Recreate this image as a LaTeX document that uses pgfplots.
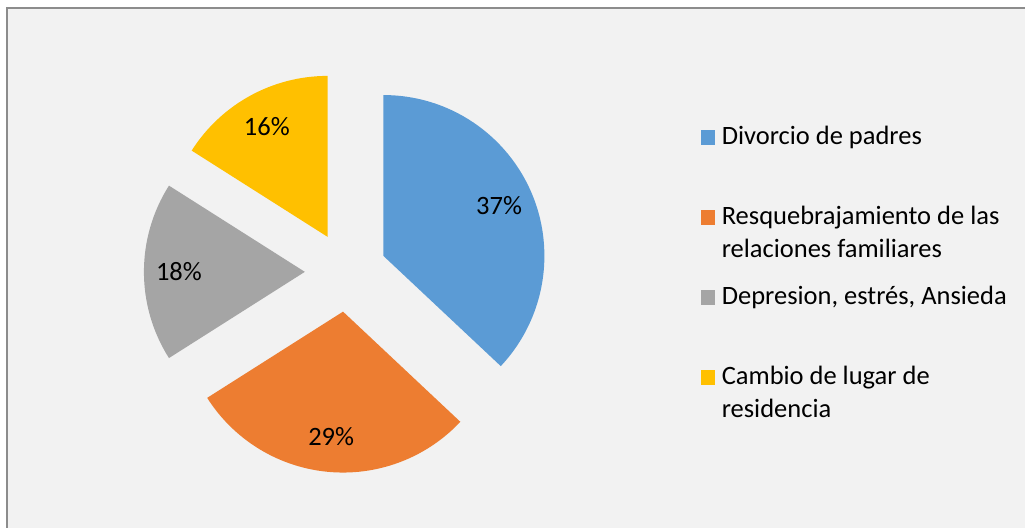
\documentclass[border=0pt]{standalone}
\usepackage{fontspec}
\setmainfont{Carlito}
\usepackage{pgfplots}
\usepackage{pgfplotstable}
\pgfplotsset{compat=1.18}
\definecolor{pblue}{HTML}{5B9BD5}
\definecolor{porange}{HTML}{ED7D31}
\definecolor{pgray}{HTML}{A5A5A5}
\definecolor{pyellow}{HTML}{FFC000}
\definecolor{bgfill}{HTML}{F2F2F2}
\definecolor{frame}{HTML}{8C8C8C}

% share in %, explode offset (pt)
\pgfplotstableread{
share explode
37 40
29 40
18 42
16 40
}\piedata

\newcommand\lblfont{\fontsize{26.5}{31}\selectfont}
\gdef\pieacc{0}

\begin{document}
\begin{tikzpicture}
\begin{axis}[
  width=1026pt, height=528pt, scale only axis,
  xmin=0, xmax=1026, ymin=0, ymax=528, y dir=reverse,
  hide axis, clip=false,
]
\pgfplotsextra{
  \fill[white] (axis cs:0,0) rectangle (axis cs:1026,528);
  \fill[bgfill] (axis cs:7,8) rectangle (axis cs:1026,528);
  \draw[frame, line width=1.2pt] (axis cs:7,528) -- (axis cs:7,8) -- (axis cs:1026,8);
  \foreach \i/\col in {0/pblue,1/porange,2/pgray,3/pyellow}{
    \pgfplotstablegetelem{\i}{share}\of\piedata \let\sh\pgfplotsretval
    \pgfplotstablegetelem{\i}{explode}\of\piedata \let\ex\pgfplotsretval
    \pgfmathsetmacro\a{90-\pieacc*3.6}
    \pgfmathsetmacro\b{90-(\pieacc+\sh)*3.6}
    \pgfmathsetmacro\m{(\a+\b)/2}
    \path (axis cs:347,272) ++(\m:\ex pt) coordinate (o);
    \fill[\col] (o) -- ++(\a:161pt) arc[start angle=\a, end angle=\b, radius=161pt] -- cycle;
    \node[font=\lblfont, inner sep=0pt] at ([shift={(\m:126pt)}]o) {\sh\%};
    \pgfmathsetmacro\t{\pieacc+\sh}\xdef\pieacc{\t}
  }
  % legend
  \foreach \yb/\col/\txt in {145/pblue/{Divorcio de padres},
      225/porange/{Resquebrajamiento de las},
      305/pgray/{Depresion, estrés, Ansieda},
      385/pyellow/{Cambio de lugar de}}{
    \fill[\col] (axis cs:701,\yb-15) rectangle (axis cs:715,\yb);
    \node[font=\lblfont, anchor=base west, inner sep=0pt] at (axis cs:722,\yb) {\txt};
  }
  \node[font=\lblfont, anchor=base west, inner sep=0pt] at (axis cs:722,258) {relaciones familiares};
  \node[font=\lblfont, anchor=base west, inner sep=0pt] at (axis cs:722,418) {residencia};
}
\end{axis}
\end{tikzpicture}
\end{document}
